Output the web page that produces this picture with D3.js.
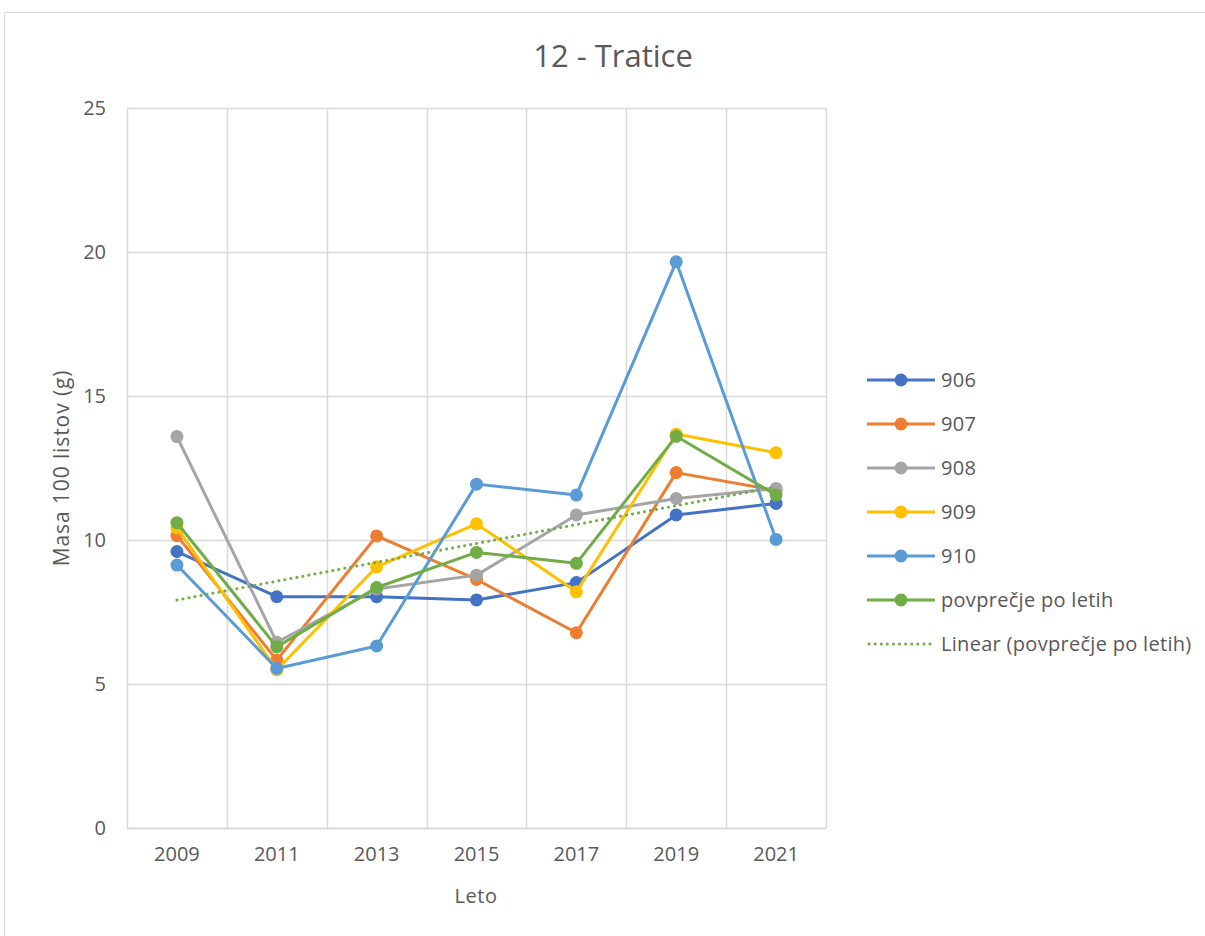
<!DOCTYPE html>
<html>
<head>
<meta charset="utf-8">
<script src="https://cdn.jsdelivr.net/npm/d3@7"></script>
<style>
  html, body { margin: 0; padding: 0; background: #fff; }
  svg { display: block; font-family: "Open Sans", Lato, sans-serif; }
</style>
</head>
<body>
<svg id="chart" width="1205" height="936"></svg>
<script>
// Years on the category axis
const years = ["2009", "2011", "2013", "2015", "2017", "2019", "2021"];

// Mass of 100 leaves (g) per variety
const s906 = [9.60, 8.03, 8.03, 7.92, 8.52, 10.87, 11.27];
const s907 = [10.15, 5.83, 10.14, 8.63, 6.78, 12.34, 11.72];
const s908 = [13.59, 6.45, 8.30, 8.78, 10.87, 11.44, 11.79];
const s909 = [10.42, 5.49, 9.07, 10.56, 8.20, 13.68, 13.03];
const s910 = [9.13, 5.54, 6.32, 11.94, 11.56, 19.66, 10.02];
const sAvg = [10.60, 6.29, 8.35, 9.57, 9.19, 13.60, 11.56];

const seriesNames = ["906", "907", "908", "909", "910", "povprečje po letih"];
const seriesValues = [s906, s907, s908, s909, s910, sAvg];
const seriesColors = ["#4472C4", "#ED7D31", "#A5A5A5", "#FFC000", "#5B9BD5", "#70AD47"];
const trendName = "Linear (povprečje po letih)";

const yTicks = [0, 5, 10, 15, 20, 25];

const svg = d3.select("#chart");
const textColor = "#595959";
const gridColor = "#D9D9D9";
const font = "'Open Sans', sans-serif";

// Chart frame
svg.append("rect")
  .attr("x", 4.5).attr("y", 12.5)
  .attr("width", 1220).attr("height", 940)
  .attr("fill", "#fff").attr("stroke", gridColor).attr("stroke-width", 1);

const plot = { left: 127, right: 826, top: 108, bottom: 828 };

const x = d3.scaleBand().domain(years).range([plot.left, plot.right]);
const cx = d => x(d) + x.bandwidth() / 2;
const y = d3.scaleLinear().domain([0, 25]).range([plot.bottom, plot.top]);

// Horizontal gridlines
svg.append("g").selectAll("line").data(yTicks).join("line")
  .attr("x1", plot.left).attr("x2", plot.right)
  .attr("y1", d => Math.round(y(d)) + 0.5).attr("y2", d => Math.round(y(d)) + 0.5)
  .attr("stroke", gridColor).attr("stroke-width", d => d === 0 ? 2 : 1.5);

// Vertical gridlines at category boundaries
const bounds = years.map(d => x(d)).concat([x(years[years.length - 1]) + x.bandwidth()]);
svg.append("g").selectAll("line").data(bounds).join("line")
  .attr("x1", d => Math.round(d) + 0.5).attr("x2", d => Math.round(d) + 0.5)
  .attr("y1", plot.top).attr("y2", plot.bottom)
  .attr("stroke", gridColor).attr("stroke-width", 1.5);

// Y axis labels
const yAxis = d3.axisLeft(y).tickValues(yTicks).tickSize(0).tickPadding(21);
const gy = svg.append("g").attr("transform", `translate(${plot.left},0)`).call(yAxis);
gy.select(".domain").remove();
gy.selectAll("text").attr("fill", textColor).style("font-size", "20px")
  .style("font-family", font);

// X axis labels
const xAxis = d3.axisBottom(x).tickSize(0).tickPadding(19);
const gx = svg.append("g").attr("transform", `translate(0,${plot.bottom})`).call(xAxis);
gx.select(".domain").remove();
gx.selectAll("text").attr("fill", textColor).style("font-size", "20px")
  .style("font-family", font);

// Title and axis titles
svg.append("text").attr("x", 613).attr("y", 56).attr("dy", "0.35em").attr("text-anchor", "middle")
  .attr("fill", textColor).style("font-size", "31px").text("12 - Tratice");
svg.append("text").attr("x", 476).attr("y", 896).attr("dy", "0.35em").attr("text-anchor", "middle")
  .attr("fill", textColor).style("font-size", "20px").style("letter-spacing", "0.5px").text("Leto");
svg.append("text").attr("transform", "translate(62,468) rotate(-90)")
  .attr("dy", "0.35em").attr("text-anchor", "middle").attr("fill", textColor)
  .style("font-size", "21px").style("letter-spacing", "0.9px").text("Masa 100 listov (g)");

// Series lines with markers
const line = d3.line().x((d, i) => cx(years[i])).y(d => y(d));
seriesValues.forEach((vals, k) => {
  const g = svg.append("g");
  g.append("path").datum(vals).attr("d", line)
    .attr("fill", "none").attr("stroke", seriesColors[k])
    .attr("stroke-width", 3).attr("stroke-linejoin", "round").attr("stroke-linecap", "round");
  g.selectAll("circle").data(vals).join("circle")
    .attr("cx", (d, i) => cx(years[i])).attr("cy", d => y(d)).attr("r", 6.5)
    .attr("fill", seriesColors[k]);
});

// Linear trend of the yearly average (least squares over category index)
const n = sAvg.length;
const idx = d3.range(1, n + 1);
const mx = d3.mean(idx), my = d3.mean(sAvg);
const slope = d3.sum(idx, (v, i) => (v - mx) * (sAvg[i] - my)) / d3.sum(idx, v => (v - mx) ** 2);
const intercept = my - slope * mx;
const trend = idx.map(v => intercept + slope * v);
svg.append("path").datum(trend).attr("d", line)
  .attr("fill", "none").attr("stroke", "#70AD47").attr("stroke-width", 3)
  .attr("stroke-dasharray", "0.1 6").attr("stroke-linecap", "round");

// Legend
const legendX = 867, legendY0 = 380, legendStep = 44;
seriesNames.forEach((name, k) => {
  const ly = legendY0 + k * legendStep;
  svg.append("line").attr("x1", legendX).attr("x2", legendX + 68)
    .attr("y1", ly).attr("y2", ly).attr("stroke", seriesColors[k]).attr("stroke-width", 3);
  svg.append("circle").attr("cx", legendX + 34).attr("cy", ly).attr("r", 6.5)
    .attr("fill", seriesColors[k]);
  svg.append("text").attr("x", legendX + 74).attr("y", ly).attr("dy", "0.35em")
    .attr("fill", textColor).style("font-size", "20px").style("letter-spacing", "0.3px").text(name);
});
const tly = legendY0 + seriesNames.length * legendStep;
svg.append("line").attr("x1", legendX + 2).attr("x2", legendX + 66)
  .attr("y1", tly).attr("y2", tly).attr("stroke", "#70AD47").attr("stroke-width", 3)
  .attr("stroke-dasharray", "0.1 6").attr("stroke-linecap", "round");
svg.append("text").attr("x", legendX + 74).attr("y", tly).attr("dy", "0.35em")
  .attr("fill", textColor).style("font-size", "20px").style("letter-spacing", "0.3px").text(trendName);
</script>
</body>
</html>
